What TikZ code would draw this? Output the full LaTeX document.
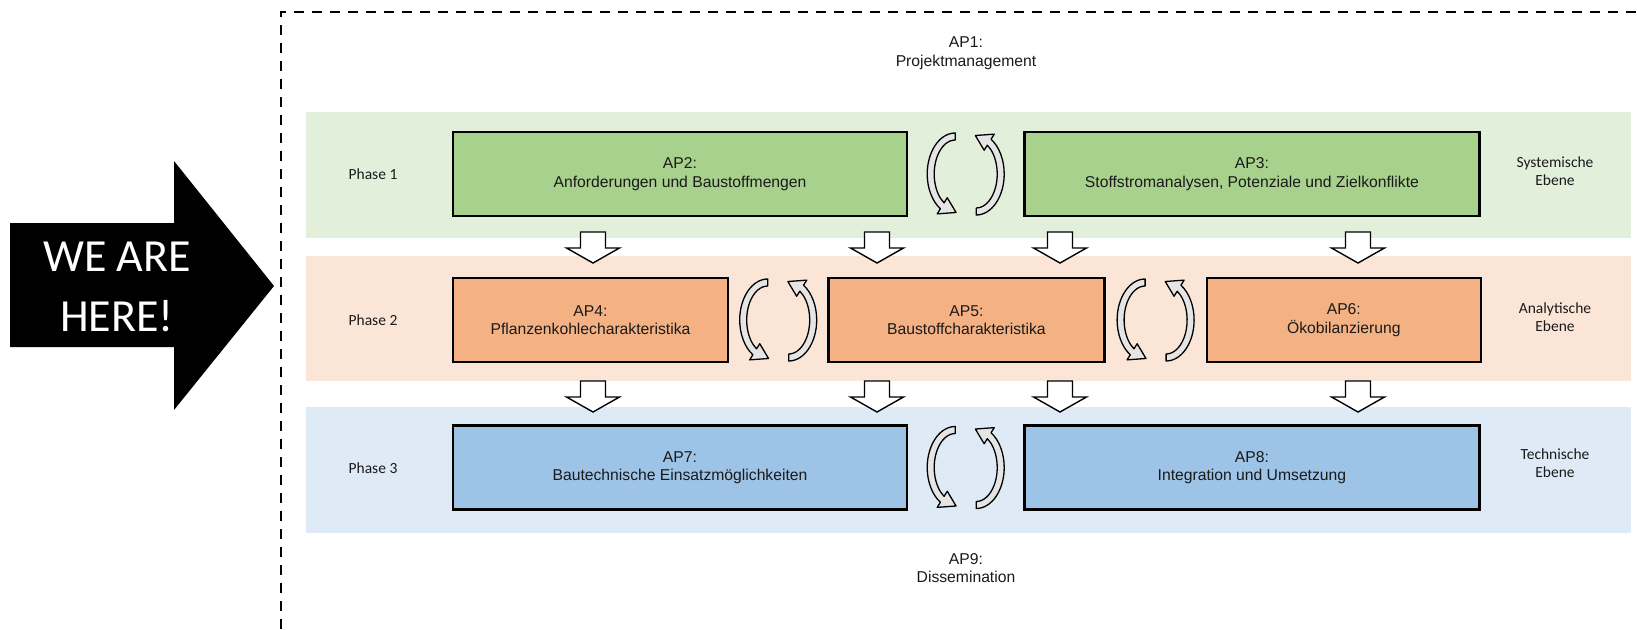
\documentclass[tikz,border=0pt]{standalone}
\usepackage{fontspec}
\setmainfont{Liberation Sans}
\newfontfamily\arialfont{Liberation Sans}
\newfontfamily\calibri{Carlito}
\usepackage{xcolor}
\usepackage{tikz}
\usetikzlibrary{positioning, calc}
\definecolor{greenband}{HTML}{E2EFDA}
\definecolor{greenbox}{HTML}{A9D18E}
\definecolor{orangeband}{HTML}{FBE5D6}
\definecolor{orangebox}{HTML}{F4B183}
\definecolor{blueband}{HTML}{DEEBF7}
\definecolor{bluebox}{HTML}{9DC3E6}
\definecolor{txt}{HTML}{1A1A1A}
\tikzstyle{band} = [rectangle, minimum width=1325pt, minimum height=126pt, inner sep=0pt]
\tikzstyle{ap} = [rectangle, draw, line width=2.4pt, minimum height=84pt, inner sep=0pt, align=center, text=txt, font=\arialfont\fontsize{15.7}{18.5}\selectfont]
\tikzstyle{sidetext} = [align=center, text=txt, font=\calibri\fontsize{15.5}{18.5}\selectfont]
\tikzstyle{plaintext} = [align=center, text=txt, font=\arialfont\fontsize{15.7}{18.5}\selectfont]
\tikzstyle{flow} = [draw, fill=white, line width=1.4pt]
\tikzstyle{turn} = [draw, fill=gray!20, line width=1.3pt, line join=round]
\tikzset{
  flowdown/.pic={
    \path[flow] (-12.5,0) -- (12.5,0) -- (12.5,16) -- (26.5,16) -- (0,31)
      -- (-26.5,16) -- (-12.5,16) -- cycle;
  },
  cyclepair/.pic={
    % left half, head at the bottom
    \path[turn] ([shift={(-10.5,0)}]270:28 and 41) arc[start angle=270, end angle=122, x radius=28, y radius=41]
      -- ([shift={(-10.5,0)}]122:34 and 47) -- ([shift={(-10.5,0)}]88:24.5 and 38.5) -- ([shift={(-10.5,0)}]122:15 and 28)
      -- ([shift={(-10.5,0)}]122:21 and 34) arc[start angle=122, end angle=270, x radius=21, y radius=34] -- cycle;
    % right half, head at the top
    \path[turn] ([shift={(10.5,0)}]90:28 and 41) arc[start angle=90, end angle=-58, x radius=28, y radius=41]
      -- ([shift={(10.5,0)}]-58:34 and 47) -- ([shift={(10.5,0)}]-92:24.5 and 38.5) -- ([shift={(10.5,0)}]-58:15 and 28)
      -- ([shift={(10.5,0)}]-58:21 and 34) arc[start angle=-58, end angle=90, x radius=21, y radius=34] -- cycle;
  }
}

\begin{document}
\begin{tikzpicture}[x=1pt, y=-1pt]
    \useasboundingbox (0,0) rectangle (1637,629);

    % We are here arrow
    \fill[black] (10,223) -- (174,223) -- (174,161) -- (274,286) -- (174,410)
      -- (174,347) -- (10,347) -- cycle;
    \node[align=center, text=white, font=\calibri\fontsize{46}{60}\selectfont] (here) at (117,287) {WE ARE\\HERE!};

    % Project frame
    \draw[line width=2.2pt, dash pattern=on 10pt off 8pt] (281,629) -- (281,12) -- (1640,12);

    % Phase bands
    \node[band, fill=greenband] (sys) at (968.5,175) {};
    \node[band, fill=orangeband, minimum height=125pt] (ana) at (968.5,318.5) {};
    \node[band, fill=blueband] (tec) at (968.5,470) {};

    % Work packages
    \node[ap, fill=greenbox, minimum width=454pt] (ap2) at (680,174) {AP2:\\Anforderungen und Baustoffmengen};
    \node[ap, fill=greenbox, minimum width=455pt, right=115pt of ap2] (ap3) {AP3:\\Stoffstromanalysen, Potenziale und Zielkonflikte};
    \node[ap, fill=orangebox, minimum width=275pt] (ap4) at (590.5,320) {AP4:\\Pflanzenkohlecharakteristika};
    \node[ap, fill=orangebox, minimum width=276pt, right=98pt of ap4] (ap5) {AP5:\\Baustoffcharakteristika};
    \node[ap, fill=orangebox, minimum width=274pt, right=100pt of ap5] (ap6) {AP6:\\Ökobilanzierung};
    \node[ap, fill=bluebox, minimum width=454pt] (ap7) at (680,467.5) {AP7:\\Bautechnische Einsatzmöglichkeiten};
    \node[ap, fill=bluebox, minimum width=455pt, right=115pt of ap7] (ap8) {AP8:\\Integration und Umsetzung};

    % AP1 and AP9
    \node[plaintext] (ap1) at (966,53) {AP1:\\Projektmanagement};
    \node[plaintext] (ap9) at (966,568) {AP9:\\Dissemination};

    % Phase and level labels
    \node[sidetext] (ph1) at (373,174) {Phase 1};
    \node[sidetext] (ph2) at (373,320) {Phase 2};
    \node[sidetext] (ph3) at (373,468) {Phase 3};
    \node[sidetext] (lv1) at (1555,171) {Systemische\\Ebene};
    \node[sidetext] (lv2) at (1555,317) {Analytische\\Ebene};
    \node[sidetext] (lv3) at (1555,463) {Technische\\Ebene};

    % Exchange between work packages
    \pic at ($(ap2.east)!0.5!(ap3.west)$) {cyclepair};
    \pic at ($(ap4.east)!0.5!(ap5.west)$) {cyclepair};
    \pic at ($(ap5.east)!0.5!(ap6.west)$) {cyclepair};
    \pic at ($(ap7.east)!0.5!(ap8.west)$) {cyclepair};

    % Flow between phases
    \foreach \x in {593, 877, 1060, 1358} {
        \pic at (\x,232) {flowdown};
        \pic at (\x,381) {flowdown};
    }
\end{tikzpicture}
\end{document}
